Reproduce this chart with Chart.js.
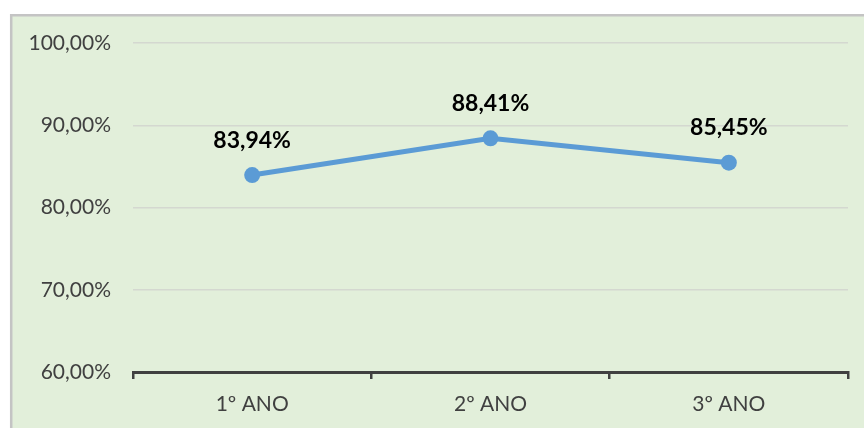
<!DOCTYPE html>
<html><head><meta charset="utf-8">
<script src="https://cdn.jsdelivr.net/npm/chart.js@4"></script>
<style>html,body{margin:0;padding:0;background:#fff;}#wrap{width:864px;height:428px;position:relative;}</style>
</head><body><div id="wrap"><canvas id="c" width="864" height="428"></canvas></div>
<script>
const categories = ['1º ANO', '2º ANO', '3º ANO'];
const values = [83.94, 88.41, 85.45];
const yTicks = [60, 70, 80, 90, 100];

const fmt = v => v.toFixed(2).replace('.', ',') + '%';

const bgPlugin = {
  id: 'bg',
  beforeDraw(chart) {
    const ctx = chart.ctx;
    ctx.save();
    ctx.fillStyle = '#E2EFDA';
    ctx.fillRect(10, 14, 864 - 10, 428 - 14);
    ctx.strokeStyle = '#C4C4C4';
    ctx.lineWidth = 2.5;
    ctx.beginPath();
    ctx.moveTo(11.2, 428);
    ctx.lineTo(11.2, 15.2);
    ctx.lineTo(864, 15.2);
    ctx.stroke();
    ctx.restore();
  }
};
const labelPlugin = {
  id: 'lbls',
  afterDatasetsDraw(chart) {
    const ctx = chart.ctx;
    const meta = chart.getDatasetMeta(0);
    ctx.save();
    ctx.font = 'bold 23px Lato';
    ctx.fillStyle = '#000';
    ctx.textAlign = 'center';
    ctx.textBaseline = 'middle';
    meta.data.forEach((pt, i) => {
      ctx.fillText(fmt(values[i]), pt.x, pt.y - 35);
    });
    ctx.restore();
  }
};

function draw() {
  new Chart(document.getElementById('c'), {
    type: 'line',
    data: {
      labels: categories,
      datasets: [{
        data: values,
        borderColor: '#5B9BD5',
        backgroundColor: '#5B9BD5',
        borderWidth: 5,
        pointRadius: 8,
        pointHoverRadius: 8,
        pointBorderWidth: 0,
        tension: 0
      }]
    },
    options: {
      responsive: false,
      animation: false,
      layout: { padding: { left: 0, right: 16, top: 43, bottom: 0 } },
      plugins: { legend: { display: false }, tooltip: { enabled: false } },
      scales: {
        x: {
          offset: true,
          afterFit(s) { s.height = 56; },
          grid: { offset: true, drawOnChartArea: false, drawTicks: true, tickLength: 7, color: '#404040', lineWidth: 2.5 },
          border: { display: true, color: '#404040', width: 3 },
          ticks: { color: '#404040', font: { family: 'Lato', size: 21 }, padding: 13 }
        },
        y: {
          min: 60, max: 100,
          afterFit(s) { s.width = 133; },
          afterBuildTicks(s) { s.ticks = yTicks.map(v => ({ value: v })); },
          grid: { color: '#D4D8D0', lineWidth: 1.5, drawTicks: false },
          border: { display: false },
          ticks: { color: '#404040', font: { family: 'Lato', size: 21 }, padding: 22, callback: v => fmt(v) }
        }
      }
    },
    plugins: [bgPlugin, labelPlugin]
  });
}
Promise.all([document.fonts.load('21px Lato'), document.fonts.load('bold 23px Lato')]).then(draw, draw);
</script></body></html>
